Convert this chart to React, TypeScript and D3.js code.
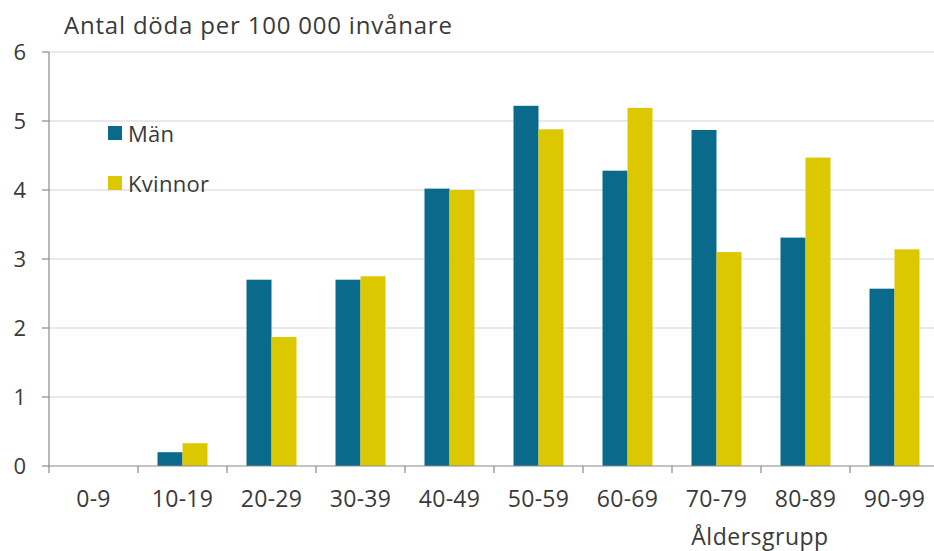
import React from "react";
import * as d3 from "d3";

const categories = ["0-9", "10-19", "20-29", "30-39", "40-49", "50-59", "60-69", "70-79", "80-89", "90-99"];
const men = [0, 0.2, 2.7, 2.7, 4.02, 5.22, 4.28, 4.87, 3.31, 2.57];
const women = [0, 0.33, 1.87, 2.75, 4.0, 4.88, 5.19, 3.1, 4.47, 3.14];
const seriesNames = ["Män", "Kvinnor"];
const seriesColors = ["#0a6a8c", "#dcc800"];
const yTicks = [0, 1, 2, 3, 4, 5, 6];

const W = 934;
const H = 551;
const FONT = "'Open Sans', sans-serif";
const TEXT = "#3a3a3a";

export default function App() {
  const x0 = 49;
  const step = 89;
  const x = d3
    .scaleBand<string>()
    .domain(categories)
    .range([x0, x0 + step * categories.length])
    .paddingInner(0)
    .paddingOuter(0);
  const y = d3.scaleLinear().domain([0, 6]).range([466, 52]);
  const barW = 25;
  const series = [men, women];

  return (
    <svg
      width={W}
      height={H}
      style={{ position: "absolute", left: 0, top: 0, background: "#fff" }}
      fontFamily={FONT}
    >
      <text x={64} y={33.5} fontSize={24} letterSpacing={0.8} fill={TEXT}>
        Antal döda per 100 000 invånare
      </text>

      {yTicks.map((t) => (
        <g key={t}>
          {t > 0 && (
            <line x1={x0} x2={W} y1={y(t)} y2={y(t)} stroke="#d4d4d4" strokeWidth={1.2} />
          )}
          <line x1={x0 - 7} x2={x0} y1={y(t)} y2={y(t)} stroke="#8a8a8a" strokeWidth={1.2} />
          <text x={26} y={y(t) + 8} fontSize={22} textAnchor="end" fill={TEXT}>
            {t}
          </text>
        </g>
      ))}

      {categories.map((c, i) => {
        const cx = (x(c) as number) + x.bandwidth() / 2;
        return (
          <g key={c}>
            {series.map((s, k) => (
              <rect
                key={k}
                x={cx - barW + k * barW}
                y={y(s[i])}
                width={barW}
                height={y(0) - y(s[i])}
                fill={seriesColors[k]}
              />
            ))}
            <text x={cx} y={507} fontSize={23} letterSpacing={0.3} textAnchor="middle" fill={TEXT}>
              {c}
            </text>
          </g>
        );
      })}

      {categories.map((c) => (
        <line
          key={"t" + c}
          x1={x(c) as number}
          x2={x(c) as number}
          y1={466}
          y2={473}
          stroke="#8a8a8a"
          strokeWidth={1.2}
        />
      ))}
      <line x1={x0} x2={x0} y1={52} y2={466} stroke="#8a8a8a" strokeWidth={1.2} />
      <line x1={x0} x2={W} y1={466} y2={466} stroke="#8a8a8a" strokeWidth={1.2} />

      <text x={760} y={545} fontSize={23} letterSpacing={0.5} textAnchor="middle" fill={TEXT}>
        Åldersgrupp
      </text>

      {seriesNames.map((n, k) => (
        <g key={n}>
          <rect x={108} y={126 + k * 50} width={14} height={14} fill={seriesColors[k]} />
          <text x={128} y={141.5 + k * 50} fontSize={22} letterSpacing={0.3} fill={TEXT}>
            {n}
          </text>
        </g>
      ))}
    </svg>
  );
}
